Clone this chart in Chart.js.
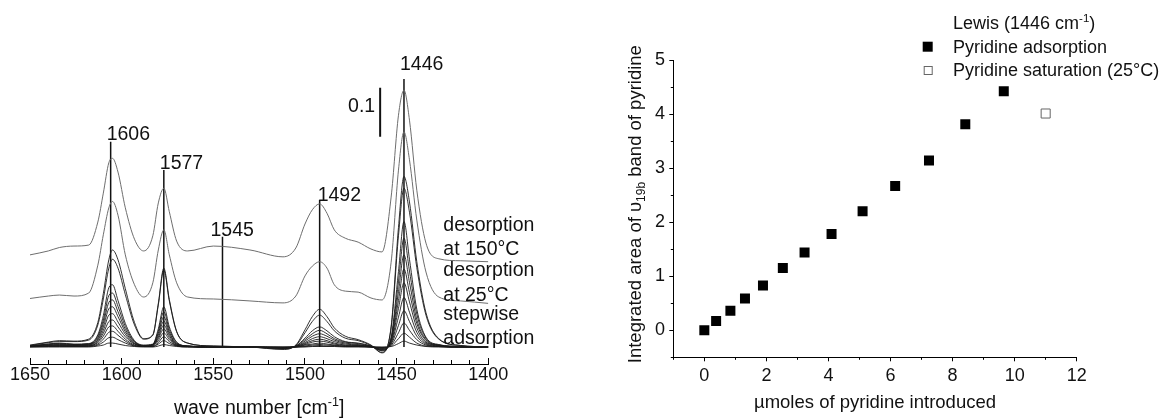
<!DOCTYPE html>
<html>
<head>
<meta charset="utf-8">
<title>Pyridine adsorption: IR spectra and Lewis band area</title>
<script src="https://cdn.jsdelivr.net/npm/chart.js@4.4.1/dist/chart.umd.min.js"></script>
<style>
  html, body { margin: 0; padding: 0; background: #fff; }
  .panel { position: absolute; top: 0; }
  #p_spec { left: 0; width: 560px; height: 419px; }
  #p_area { left: 560px; width: 611px; height: 419px; }
</style>
</head>
<body>
<div class="panel" id="p_spec"><canvas id="ch_spec" width="560" height="419"></canvas></div>
<div class="panel" id="p_area"><canvas id="ch_area" width="611" height="419"></canvas></div>
<script>
/* ── data: IR spectra (absorbance, curves offset as plotted) ───────── */
const waveNumbers = [1650, 1640, 1634, 1626, 1618, 1613, 1610, 1607, 1605, 1602, 1598, 1593, 1588, 1583,
  1580, 1577, 1574, 1570, 1564, 1550, 1530, 1512, 1505, 1500, 1496, 1492, 1488, 1484, 1478, 1471, 1464,
  1458, 1453, 1449, 1446, 1443, 1439, 1434, 1427, 1415, 1400];

const adsStep01 = [0.004,0.010,0.013,0.012,0.016,0.050,0.109,0.178,0.198,0.178,0.119,0.050,0.017,0.025,0.089,0.161,0.097,0.032,0.008,0.002,0.000,-0.005,0.004,0.035,0.062,0.077,0.062,0.039,0.022,0.015,0.004,-0.012,0.042,0.244,0.348,0.296,0.174,0.070,0.017,0.003,0.000];
const adsStep02 = [0.003,0.009,0.011,0.011,0.014,0.045,0.098,0.161,0.179,0.161,0.107,0.045,0.016,0.024,0.086,0.157,0.094,0.031,0.008,0.002,0.000,-0.004,0.003,0.029,0.052,0.065,0.052,0.033,0.018,0.013,0.003,-0.011,0.039,0.227,0.324,0.275,0.162,0.065,0.016,0.003,0.000];
const adsStep03 = [0.002,0.006,0.008,0.006,0.007,0.025,0.064,0.121,0.127,0.095,0.048,0.013,0.004,0.006,0.037,0.082,0.041,0.010,0.002,0.000,0.000,-0.003,0.002,0.018,0.033,0.041,0.033,0.021,0.011,0.008,0.002,-0.008,0.020,0.154,0.256,0.179,0.077,0.020,0.005,0.001,0.000];
const adsStep04 = [0.002,0.006,0.007,0.005,0.006,0.022,0.055,0.105,0.110,0.083,0.042,0.011,0.003,0.005,0.032,0.072,0.036,0.009,0.002,0.000,0.000,-0.003,0.002,0.015,0.027,0.034,0.027,0.017,0.010,0.007,0.002,-0.007,0.018,0.133,0.222,0.155,0.067,0.018,0.004,0.001,0.000];
const adsStep05 = [0.002,0.005,0.006,0.005,0.006,0.019,0.048,0.091,0.096,0.072,0.036,0.010,0.003,0.005,0.028,0.062,0.031,0.007,0.002,0.000,0.000,-0.002,0.001,0.012,0.022,0.027,0.022,0.014,0.008,0.005,0.001,-0.006,0.015,0.113,0.188,0.132,0.056,0.015,0.004,0.001,0.000];
const adsStep06 = [0.002,0.004,0.005,0.004,0.005,0.016,0.041,0.078,0.082,0.062,0.031,0.008,0.002,0.004,0.024,0.053,0.027,0.006,0.002,0.000,0.000,-0.002,0.001,0.009,0.017,0.021,0.017,0.011,0.006,0.004,0.001,-0.005,0.013,0.095,0.159,0.111,0.048,0.013,0.003,0.000,0.000];
const adsStep07 = [0.001,0.003,0.004,0.003,0.004,0.014,0.034,0.065,0.068,0.051,0.026,0.007,0.002,0.004,0.020,0.045,0.023,0.005,0.001,0.000,0.000,-0.002,0.001,0.007,0.013,0.016,0.013,0.008,0.004,0.003,0.001,-0.004,0.010,0.079,0.131,0.092,0.039,0.010,0.003,0.000,0.000];
const adsStep08 = [0.001,0.002,0.003,0.003,0.003,0.011,0.028,0.052,0.055,0.041,0.021,0.006,0.002,0.003,0.017,0.037,0.019,0.004,0.001,0.000,0.000,-0.001,0.001,0.005,0.010,0.012,0.010,0.006,0.003,0.002,0.001,-0.003,0.008,0.061,0.101,0.071,0.030,0.008,0.002,0.000,0.000];
const adsStep09 = [0.001,0.002,0.002,0.001,0.002,0.009,0.022,0.041,0.043,0.032,0.016,0.004,0.001,0.002,0.013,0.029,0.015,0.003,0.001,0.000,0.000,-0.001,0.000,0.004,0.006,0.008,0.006,0.004,0.002,0.002,0.000,-0.002,0.006,0.044,0.074,0.052,0.022,0.006,0.001,0.000,0.000];
const adsStep10 = [0.001,0.002,0.002,0.001,0.002,0.006,0.016,0.030,0.032,0.024,0.012,0.003,0.001,0.001,0.009,0.021,0.011,0.003,0.001,0.000,0.000,-0.001,0.000,0.002,0.004,0.005,0.004,0.003,0.001,0.001,0.000,-0.001,0.004,0.029,0.049,0.034,0.015,0.004,0.001,0.000,0.000];
const adsStep11 = [0.000,0.001,0.001,0.001,0.001,0.004,0.010,0.019,0.020,0.015,0.008,0.002,0.001,0.001,0.006,0.013,0.007,0.002,0.000,0.000,0.000,0.000,0.000,0.001,0.002,0.003,0.002,0.002,0.001,0.001,0.000,-0.001,0.002,0.017,0.028,0.020,0.008,0.002,0.001,0.000,0.000];
const adsStep12 = [0.000,0.000,0.000,0.000,0.000,0.002,0.004,0.008,0.008,0.006,0.003,0.001,0.000,0.000,0.002,0.005,0.003,0.001,0.000,0.000,0.000,0.000,0.000,0.000,0.001,0.001,0.001,0.001,0.000,0.000,0.000,0.000,0.001,0.007,0.012,0.008,0.004,0.001,0.000,0.000,0.000];

const desorb25C  = [0.099,0.104,0.106,0.104,0.110,0.167,0.229,0.284,0.297,0.269,0.188,0.127,0.102,0.131,0.198,0.239,0.188,0.131,0.102,0.098,0.094,0.090,0.104,0.145,0.165,0.174,0.161,0.127,0.114,0.112,0.100,0.096,0.173,0.361,0.439,0.382,0.259,0.153,0.102,0.094,0.089];
const desorb150C = [0.188,0.196,0.203,0.206,0.208,0.255,0.314,0.376,0.385,0.357,0.284,0.220,0.196,0.227,0.294,0.324,0.276,0.216,0.196,0.206,0.198,0.184,0.202,0.251,0.280,0.292,0.273,0.239,0.222,0.214,0.200,0.194,0.306,0.473,0.524,0.463,0.320,0.212,0.180,0.176,0.174];

const peakWn   = [1606, 1577, 1545, 1492, 1446];
const peakTop  = [0.419, 0.361, 0.225, 0.300, 0.547];
const peakText = ['1606', '1577', '1545', '1492', '1446'];

const scaleBarWn = 1459;
const scaleBarFrom = 0.429;
const scaleBarSize = 0.1;

const curveNotes = ['desorption', 'at 150°C', 'desorption', 'at 25°C', 'stepwise', 'adsorption'];

/* ── data: integrated area of the 1446 band ─────────────────────── */
const pyrIntroduced = [0, 0.38, 0.84, 1.31, 1.89, 2.53, 3.23, 4.10, 5.10, 6.15, 7.24, 8.41, 9.65];
const lewisArea     = [0, 0.17, 0.36, 0.59, 0.83, 1.15, 1.44, 1.78, 2.20, 2.67, 3.14, 3.81, 4.42];
const satIntroduced = [11.0];
const satArea       = [4.01];

const FONT = '"Liberation Sans", Arial, Helvetica, sans-serif';
const INK = '#111';

function toXY(xs, ys) { return xs.map((v, i) => ({ x: v, y: ys[i] })); }

// text made of runs (for super/subscripts)
function drawRuns(ctx, runs, x, y, align) {
  const widths = runs.map(r => { ctx.font = r.size + 'px ' + FONT; return ctx.measureText(r.t).width; });
  const total = widths.reduce((s, w) => s + w, 0);
  let cx = align === 'center' ? x - total / 2 : x;
  ctx.textAlign = 'left';
  runs.forEach((r, i) => {
    ctx.font = r.size + 'px ' + FONT;
    ctx.fillText(r.t, cx, y + (r.dy || 0));
    cx += widths[i];
  });
}

/* ── left: spectra ──────────────────────────────────────────────── */
const spectraNotes = {
  id: 'spectraNotes',
  afterDraw(chart) {
    const { ctx, chartArea } = chart;
    const x = chart.scales.x, y = chart.scales.y;
    ctx.save();
    ctx.fillStyle = INK;
    ctx.textBaseline = 'alphabetic';
    ctx.font = '19.5px ' + FONT;

    const dx = [-4, -4, -12, -2, -4];
    const dy = [-2, -1, -1, 1.5, -9];
    ctx.textAlign = 'left';
    peakWn.forEach((wn, i) => {
      ctx.fillText(peakText[i], x.getPixelForValue(wn) + dx[i], y.getPixelForValue(peakTop[i]) + dy[i]);
    });

    ctx.textAlign = 'right';
    ctx.fillText('0.1', x.getPixelForValue(scaleBarWn) - 5, y.getPixelForValue(scaleBarFrom + scaleBarSize * 0.5));

    const y0 = y.getPixelForValue(0);
    const rise = [115.5, 91.5, 71, 46, 27, 3];
    ctx.textAlign = 'left';
    curveNotes.forEach((t, i) => ctx.fillText(t, chartArea.right - 45, y0 - rise[i]));

    drawRuns(ctx, [
      { t: 'wave number [cm', size: 19.5 },
      { t: '-1', size: 12.5, dy: -8 },
      { t: ']', size: 19.5 }
    ], (chartArea.left + chartArea.right) / 2, 414, 'center');
    ctx.restore();
  }
};

const stepCurves = [adsStep01, adsStep02, adsStep03, adsStep04, adsStep05, adsStep06,
  adsStep07, adsStep08, adsStep09, adsStep10, adsStep11, adsStep12];

const specDatasets = [];
stepCurves.forEach((c, i) => specDatasets.push({
  label: 'adsorption step ' + (i + 1),
  data: toXY(waveNumbers, c),
  borderColor: '#1c1c1c', borderWidth: 0.9,
  pointRadius: 0, cubicInterpolationMode: 'monotone', fill: false
}));
[desorb25C, desorb150C].forEach((c, i) => specDatasets.push({
  label: i ? 'desorption at 150°C' : 'desorption at 25°C',
  data: toXY(waveNumbers, c),
  borderColor: '#6e6e6e', borderWidth: 1,
  pointRadius: 0, cubicInterpolationMode: 'monotone', fill: false
}));
peakWn.forEach((wn, i) => specDatasets.push({
  label: 'band ' + peakText[i],
  data: [{ x: wn, y: 0 }, { x: wn, y: peakTop[i] }],
  borderColor: INK, borderWidth: 1.5, pointRadius: 0
}));
specDatasets.push({
  label: 'scale 0.1',
  data: [{ x: scaleBarWn, y: scaleBarFrom }, { x: scaleBarWn, y: scaleBarFrom + scaleBarSize }],
  borderColor: INK, borderWidth: 2, pointRadius: 0
});

new Chart(document.getElementById('ch_spec').getContext('2d'), {
  type: 'line',
  data: { datasets: specDatasets },
  options: {
    responsive: false,
    animation: false,
    events: [],
    layout: { padding: { left: 30, right: 71.7, top: 40, bottom: 0 } },
    plugins: { legend: { display: false }, tooltip: { enabled: false } },
    scales: {
      x: {
        type: 'linear', position: 'bottom', reverse: true, min: 1400, max: 1650, weight: 1,
        afterFit: s => { s.height = 55; },
        border: { display: true, color: '#000', width: 1 },
        grid: { drawOnChartArea: false, drawTicks: true, tickLength: -6, tickColor: '#000', tickWidth: 1 },
        ticks: {
          stepSize: 50, includeBounds: false, autoSkip: false, maxRotation: 0,
          padding: 6.7, color: INK, font: { family: FONT, size: 18, lineHeight: 1.2 },
          callback: v => String(v)
        }
      },
      xm: {
        type: 'linear', position: 'bottom', reverse: true, min: 1400, max: 1650, weight: 0,
        afterFit: s => { s.height = 0; },
        border: { display: false },
        grid: { drawOnChartArea: false, drawTicks: true, tickLength: -4, tickColor: '#000', tickWidth: 1 },
        ticks: { display: false, stepSize: 10, includeBounds: false }
      },
      y: { display: false, min: -0.0347, max: 0.6265 }
    }
  },
  plugins: [spectraNotes]
});

/* ── right: integrated area vs. pyridine dosed ──────────────────── */
const areaNotes = {
  id: 'areaNotes',
  afterDraw(chart) {
    const { ctx, chartArea } = chart;
    ctx.save();
    ctx.fillStyle = INK;
    ctx.textBaseline = 'alphabetic';

    ctx.save();
    ctx.translate(81, (chartArea.top + chartArea.bottom) / 2 - 4.5);
    ctx.rotate(-Math.PI / 2);
    drawRuns(ctx, [
      { t: 'Integrated area of υ', size: 18.5 },
      { t: '19b', size: 12, dy: 4 },
      { t: ' band of pyridine', size: 18.5 }
    ], 0, 0, 'center');
    ctx.restore();

    ctx.font = '18.5px ' + FONT;
    ctx.textAlign = 'center';
    ctx.fillText('µmoles of pyridine introduced', (chartArea.left + chartArea.right) / 2, 408);

    // legend
    const mx = 367.7, tx = 393;
    drawRuns(ctx, [
      { t: 'Lewis (1446 cm', size: 18 },
      { t: '-1', size: 11.5, dy: -7 },
      { t: ')', size: 18 }
    ], tx, 29, 'left');
    ctx.font = '18px ' + FONT;
    ctx.textAlign = 'left';
    ctx.fillText('Pyridine adsorption', tx, 52.5);
    ctx.fillText('Pyridine saturation (25°C)', tx, 76);
    ctx.fillStyle = '#000';
    ctx.fillRect(mx - 5, 46.7 - 5, 10, 10);
    ctx.fillStyle = '#fff';
    ctx.strokeStyle = '#666';
    ctx.lineWidth = 1;
    ctx.fillRect(mx - 4, 66, 8, 8);
    ctx.strokeRect(mx - 4 + 0.5, 66 + 0.5, 8, 8);
    ctx.restore();
  }
};

const tickFont = { family: FONT, size: 18, lineHeight: 1.2 };

new Chart(document.getElementById('ch_area').getContext('2d'), {
  type: 'scatter',
  data: {
    datasets: [
      {
        label: 'Pyridine adsorption',
        data: toXY(pyrIntroduced, lewisArea),
        pointStyle: 'rect', pointRadius: 7.07,
        backgroundColor: '#000', borderColor: '#000', borderWidth: 0
      },
      {
        label: 'Pyridine saturation (25°C)',
        data: toXY(satIntroduced, satArea),
        pointStyle: 'rect', pointRadius: 6.4,
        backgroundColor: '#fff', borderColor: '#666', borderWidth: 1
      }
    ]
  },
  options: {
    responsive: false,
    animation: false,
    events: [],
    layout: { padding: { left: 0, right: 94.3, top: 60, bottom: 0 } },
    plugins: { legend: { display: false }, tooltip: { enabled: false } },
    scales: {
      x: {
        type: 'linear', position: 'bottom', min: -1, max: 12, weight: 1,
        afterFit: s => { s.height = 61.7; },
        border: { display: true, color: '#000', width: 1 },
        grid: { drawOnChartArea: false, tickLength: 4, tickColor: '#000' },
        ticks: { stepSize: 2, includeBounds: false, autoSkip: false, maxRotation: 0, padding: 3.9, color: INK, font: tickFont, callback: v => String(v) }
      },
      xm: {
        type: 'linear', position: 'bottom', min: -1, max: 12, weight: 0,
        afterFit: s => { s.height = 0; },
        border: { display: false },
        grid: { drawOnChartArea: false, tickLength: 2.5, tickColor: '#000' },
        ticks: { display: false, stepSize: 1, includeBounds: false }
      },
      y: {
        type: 'linear', position: 'left', min: -0.5, max: 5, weight: 1,
        afterFit: s => { s.width = 113.3; },
        border: { display: true, color: '#000', width: 1 },
        grid: { drawOnChartArea: false, tickLength: 4, tickColor: '#000' },
        ticks: { stepSize: 1, includeBounds: false, autoSkip: false, padding: 4.3, color: INK, font: tickFont,
          callback: v => Number.isInteger(v) ? String(v) : '' }
      },
      ym: {
        type: 'linear', position: 'left', min: -0.5, max: 5, weight: 0,
        afterFit: s => { s.width = 0; },
        border: { display: false },
        grid: { drawOnChartArea: false, tickLength: 2.5, tickColor: '#000' },
        ticks: { display: false, stepSize: 0.5, includeBounds: false }
      }
    }
  },
  plugins: [areaNotes]
});
</script>
</body>
</html>
